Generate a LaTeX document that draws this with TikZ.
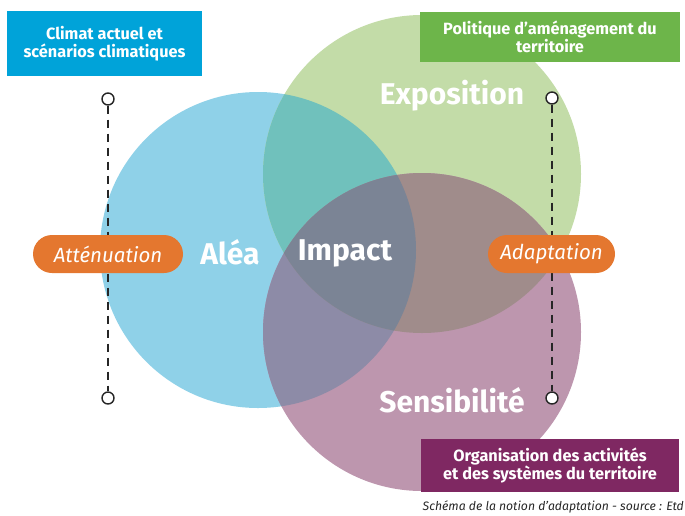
\documentclass[tikz,border=0pt]{standalone}
\usepackage{fontspec}
\setmainfont{Fira Sans}
\usetikzlibrary{positioning}
\definecolor{aleaBlue}{HTML}{8FD1E8}
\definecolor{expoGreen}{HTML}{C3DCA8}
\definecolor{sensPurple}{HTML}{BD96AE}
\definecolor{blueGreen}{HTML}{70C1BC}
\definecolor{bluePurple}{HTML}{8D8BA7}
\definecolor{greenPurple}{HTML}{A08C8B}
\definecolor{impactGrey}{HTML}{7B8495}
\definecolor{climatBox}{HTML}{00A3D9}
\definecolor{politiqueBox}{HTML}{6DB54A}
\definecolor{orgaBox}{HTML}{7F2862}
\definecolor{pillOrange}{HTML}{E4772F}
\tikzset{
  titlebox/.style={rectangle,inner sep=0pt,text=white,align=center,
    font=\bfseries\fontsize{16.3}{18.5}\selectfont},
  pill/.style={rectangle,rounded corners=19pt,fill=pillOrange,minimum height=38pt,
    inner sep=0pt,text=white,font=\itshape\fontsize{20.5}{24}\selectfont},
  biglabel/.style={text=white,font=\bfseries\fontsize{30}{34}\selectfont,inner sep=0pt},
  endcap/.style={circle,draw=black!85,fill=white,line width=1.4pt,minimum size=12pt,inner sep=0pt},
  guide/.style={black!85,line width=1.3pt,dash pattern=on 8pt off 6pt}
}
\begin{document}
\begin{tikzpicture}[x=1pt,y=-1pt]
\useasboundingbox (0,0) rectangle (685,515);
\coordinate (alea) at (258,250);
\coordinate (expo) at (422,174);
\coordinate (sens) at (422,332);
\fill[aleaBlue] (alea) circle[radius=158pt];
\fill[expoGreen] (expo) circle[radius=159pt];
\fill[sensPurple] (sens) circle[radius=159pt];
\begin{scope}
  \clip (alea) circle[radius=158pt];
  \fill[blueGreen] (expo) circle[radius=159pt];
  \fill[bluePurple] (sens) circle[radius=159pt];
\end{scope}
\begin{scope}
  \clip (expo) circle[radius=159pt];
  \fill[greenPurple] (sens) circle[radius=159pt];
\end{scope}
\begin{scope}
  \clip (alea) circle[radius=158pt];
  \clip (expo) circle[radius=159pt];
  \fill[impactGrey] (sens) circle[radius=159pt];
\end{scope}
\node[titlebox,fill=climatBox,minimum width=195pt,minimum height=65pt] (climat) at (104.5,43.5) {Climat actuel et\\scénarios climatiques};
\node[titlebox,fill=politiqueBox,minimum width=260pt,minimum height=50pt] (politique) at (550,37) {Politique d’aménagement du\\territoire};
\node[titlebox,fill=orgaBox,minimum width=258pt,minimum height=53pt] (orga) at (550,465.5) {Organisation des activités\\et des systèmes du territoire};
\node[anchor=east,inner sep=0pt,text=black!85,font=\itshape\fontsize{12.2}{15}\selectfont] (source) at (684,507) {Schéma de la notion d'adaptation - source : Etd};
\node[endcap] (attTop) at (108,99) {};
\node[endcap] (attBot) at (108,398) {};
\node[endcap] (adaTop) at (552,98) {};
\node[endcap] (adaBot) at (552,398) {};
\draw[guide] (attTop) -- (attBot);
\draw[guide] (adaTop) -- (adaBot);
\node[pill,minimum width=150pt] (attenuation) at (108,254) {Atténuation};
\node[pill,minimum width=127pt] (adaptation) at (551.5,254) {Adaptation};
\node[biglabel] (aleaLabel) at (230,252) {Aléa};
\node[biglabel] (impactLabel) at (345,253) {Impact};
\node[biglabel] (expoLabel) at (452,96) {Exposition};
\node[biglabel] (sensLabel) at (452,400) {Sensibilité};
\end{tikzpicture}
\end{document}
